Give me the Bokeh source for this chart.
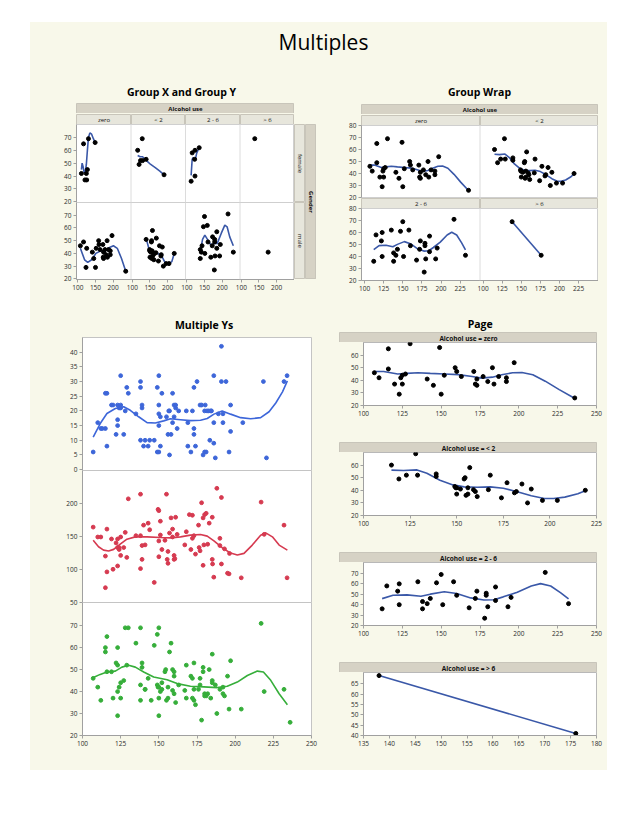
import numpy as np
from bokeh.plotting import figure
from bokeh.layouts import column, row, Spacer
from bokeh.models import FixedTicker, Span, Range1d
from bokeh.core.properties import value
from bokeh.embed import file_html
from bokeh.resources import INLINE

# ---------------- data ----------------
groups = ["zero", "< 2", "2 - 6", "> 6"]

zero_x = [107, 110, 116, 116, 120, 123, 124, 125, 125, 127,
          130, 141, 145, 149, 150, 152, 159, 160, 163, 171,
          172, 173, 173, 177, 180, 183, 184, 187, 192, 192,
          197, 236]
zero_y = [46, 42, 65, 49, 37, 29, 42, 44, 37, 45,
          69, 41, 36, 66, 29, 44, 50, 47, 43, 47,
          37, 41, 36, 43, 39, 50, 37, 43, 42, 39,
          54, 26]
zero_sex = ["M", "F", "F", "M", "F", "M", "F", "M", "F", "F",
            "F", "M", "M", "F", "M", "M", "M", "M", "M", "M",
            "M", "M", "M", "M", "M", "M", "M", "M", "M", "M",
            "M", "M"]

lt2_x = [115, 119, 123, 128, 129, 139, 139, 149, 149.5, 150,
         150, 152, 154, 154.5, 155, 156, 156, 157, 159, 160,
         161, 167, 168, 174, 177, 181, 182, 185, 188, 190,
         196, 204, 219]
lt2_y = [60, 49, 52, 69, 52, 53, 51, 43, 42, 37,
         42, 41, 49, 50, 36, 42, 37, 58, 40.5, 39,
         35, 40.5, 52, 34, 46, 38, 39, 45, 30, 41,
         32, 32, 40]
lt2_sex = ["F", "F", "F", "F", "F", "F", "M", "M", "M", "M",
           "M", "M", "M", "M", "M", "M", "M", "M", "M", "M",
           "M", "M", "M", "M", "M", "M", "M", "M", "M", "F",
           "M", "M", "M"]

mid_x = [112, 115, 122, 123, 123, 135, 138, 138, 141, 143,
         147, 150, 151, 158, 160, 168, 172, 173, 178, 179,
         179, 180, 185, 185, 193, 195, 217, 232]
mid_y = [36, 58, 53, 60, 40, 62, 43, 36, 41, 46,
         61, 69, 40, 62, 49, 37, 46, 53, 27, 51,
         49, 38, 57, 44, 38, 47, 71, 41]
mid_sex = ["F", "F", "F", "F", "F", "F", "M", "M", "M", "M",
           "M", "M", "M", "M", "M", "M", "M", "M", "M", "M",
           "M", "M", "M", "M", "M", "M", "M", "M"]

gt6_x = [138, 176]
gt6_y = [69, 41]
gt6_sex = ["F", "M"]

# smoother curves, all genders
zero_fit_x = [107, 113, 122, 128, 135, 143, 152, 161, 170, 176, 183, 189, 196, 202, 209, 217, 226, 235]
zero_fit_y = [47, 47, 45, 45.5, 46, 45.5, 45, 44.5, 43, 41.7, 42.5, 44.4, 46, 46.2, 44.4, 39.3, 32.6, 26.4]
lt2_fit_x = [115, 121.5, 128.7, 134, 141, 148, 154, 161, 168, 175, 182.5, 190, 197, 202, 208, 215, 219]
lt2_fit_y = [56, 55.7, 56.2, 53.5, 48, 44.3, 42.7, 42.4, 42.7, 41.6, 38.9, 35.7, 33.5, 33.5, 34.6, 37.3, 39.7]
mid_fit_x = [112, 119, 128, 137, 143, 152, 160, 169, 177.5, 184, 190, 199, 208, 214, 220.5, 227, 232]
mid_fit_y = [45.8, 49.1, 49.4, 48.1, 50.1, 52.4, 50.7, 46.5, 44.5, 44.8, 47.5, 52, 57.9, 60.2, 57.9, 51.4, 45.5]
gt6_fit_x = [138, 176]
gt6_fit_y = [69, 41]

# smoother curves by gender
zero_f_fit_x = [110, 112, 115, 118, 121, 124, 127, 130, 134, 139, 144, 149]
zero_f_fit_y = [45, 50, 47, 42.5, 43, 49, 60, 70, 73.5, 72.5, 69, 66]
zero_m_fit_x = [107, 119, 128, 139, 151, 165, 178, 190, 201, 212, 224, 236]
zero_m_fit_y = [44, 35, 33, 35, 40, 42, 42, 44.7, 46, 44, 36, 26]
lt2_f_fit_x = [115, 122, 129, 140, 152, 165, 178, 190]
lt2_f_fit_y = [56, 55, 55, 52, 49, 46.5, 43.8, 41]
lt2_m_fit_x = [139, 148, 159, 172, 183, 194, 203, 212, 219]
lt2_m_fit_y = [51.8, 42.7, 41.4, 40, 38, 32.2, 31.7, 33.5, 40]
mid_f_fit_x = [112, 115, 118, 121, 124, 128, 135]
mid_f_fit_y = [40.5, 53, 54.5, 52, 53, 58, 62]
mid_m_fit_x = [138, 144.5, 151, 158.5, 168, 177, 186.4, 197.6, 207.8, 214.3, 221.8, 232]
mid_m_fit_y = [41.4, 51, 54.4, 51, 46.6, 47.9, 47.9, 55.7, 62.2, 60.9, 53, 46]

# Multiple Ys: blue series
blue_x = [107, 110, 112, 113, 115, 116, 115, 116, 119, 120,
          122, 123, 123, 123, 124, 125, 125, 125, 127, 128,
          129, 130, 135, 138, 138, 138, 139, 139, 140, 141,
          143, 144, 147, 149, 149, 150, 150, 150, 150, 150,
          151, 151, 152, 155, 156, 156.5, 157, 157, 158, 159,
          159, 160, 160, 161, 161, 162, 163, 168, 169, 169,
          171, 172, 173, 173, 173, 174, 175, 177, 178, 179,
          180, 180, 180.4, 181, 181.6, 182.7, 183.4, 184, 184.5, 186,
          186, 186, 187, 189, 191, 191, 192, 192, 194, 196,
          197, 197, 205, 218.5, 220.5, 232, 234]
blue_v = [6, 16, 14, 14, 26, 26, 14, 8, 22, 22,
          12, 17, 15, 22, 21, 22, 32, 21, 12, 20,
          28, 26, 19, 30, 28, 10, 22, 21, 8, 10,
          8, 10, 10, 28, 6, 32, 6, 15, 19, 22,
          18, 8, 26, 18, 12, 20, 20, 5, 12, 26,
          16, 18, 22, 22, 21, 14, 20, 20, 16, 8,
          6, 20, 28, 14, 12, 8, 30, 22, 22, 5,
          20, 6, 22, 6, 20, 20, 10, 20, 20, 32,
          16, 9, 4, 19, 42, 30, 19, 16, 30, 6,
          13, 22, 16, 30, 4, 30, 32]
blue_fit_x = [107, 111.6, 116, 121.5, 127, 131.3, 136.8, 142.3, 147.7, 153.2, 157.6, 164.2, 170.7,
              177.3, 181.7, 186.1, 191.5, 197, 203.6, 210.1, 216.7, 222.2, 226.6, 231, 234.2]
blue_fit_v = [11.1, 15.7, 19.1, 20.8, 21.4, 20.2, 18, 16, 15.9, 16.6, 17.3, 17, 16.7,
              16.8, 17.4, 18.9, 20, 18.9, 17.7, 17.3, 17.7, 19.7, 22.7, 26.5, 30.2]

# Multiple Ys: red series
red_x = [107, 110, 112, 115, 115, 116, 116, 119, 120, 122,
         123, 123, 123, 124, 124, 125, 125, 127, 128, 129,
         130, 135, 138, 138, 138, 139, 139, 140, 141, 143,
         144, 147, 149.5, 150, 150, 150, 151, 151, 152, 154,
         155, 155.5, 156, 156, 157, 158, 159, 159, 160, 160,
         160.5, 161, 162, 167, 168, 170, 171, 172, 172, 173,
         174, 176, 176.4, 177, 178, 179, 179, 179.5, 180, 181,
         182, 183, 185, 185, 185.2, 186, 188, 190, 190, 191,
         191, 193, 195, 196, 196.3, 204, 217, 219, 232, 234]
red_v = [164, 149, 149, 120, 72, 161, 96, 146, 100, 140,
         133, 146, 105, 133, 130, 149, 121, 133, 156, 118,
         207, 151, 214, 151, 101, 136, 115, 167, 137, 170,
         160, 80, 191, 189, 143, 119, 173, 152, 130, 144,
         214, 115, 127, 109, 155, 178, 149, 161, 115, 121,
         116, 179, 153, 137, 157, 183, 130, 182, 147, 151,
         123, 167, 133, 128, 201, 178, 106, 137, 183, 185,
         138, 170, 179, 115, 108, 88, 223, 147, 136, 209,
         108, 131, 94, 93, 124, 87, 202, 153, 167, 87]
red_fit_x = [107, 110.5, 113.8, 117.1, 120.4, 124.7, 129.1, 134.6, 142.3, 151, 157.6, 164.2, 170.7,
             177.3, 181.7, 186.1, 191.5, 197, 201.4, 205.8, 211.2, 216.7, 220, 224.4, 228.8, 234.2]
red_fit_v = [144.2, 134.2, 129.1, 127.6, 130.2, 138.2, 145.7, 149.2, 149.2, 148.2, 147.7, 149.2, 151.8,
             152.8, 150.3, 143.2, 132.7, 124.6, 121.6, 124.1, 136.7, 151.8, 155.3, 149.2, 136.7, 129.1]

# Multiple Ys: green series = Y of all groups
green_fit_x = [106, 111.6, 116, 121.5, 125.8, 130.2, 134.6, 140.1, 146.6, 155.4, 162, 170.7, 179.5,
               188.2, 194.8, 201.4, 208, 214.5, 218.5, 223.3, 228.8, 234.2]
green_fit_v = [46, 47.8, 48.9, 49.3, 51.1, 52, 51.1, 48.9, 46.6, 45.4, 43.6, 42.4, 42.1,
               41.8, 42.4, 44.3, 47.3, 49.3, 48.9, 45.1, 39, 34]

# ---------------- style ----------------
CREAM = "#F8F8EA"
STRIP_DARK = "#D6D2C5"
STRIP_LIGHT = "#E7E6DC"
FONT = "Open Sans"
TICK_COL = "#2b2b2b"
AXIS_COL = "#A0A0A0"
FIT_COL = "#3A58A8"
DOT = 4.0
S = 155      # facet span in x units
X0 = 96
P = 6        # transparent padding so edge labels are not clipped

grp_x = [zero_x, lt2_x, mid_x, gt6_x]
grp_y = [zero_y, lt2_y, mid_y, gt6_y]
grp_sex = [zero_sex, lt2_sex, mid_sex, gt6_sex]
grp_fit = [(zero_fit_x, zero_fit_y), (lt2_fit_x, lt2_fit_y), (mid_fit_x, mid_fit_y), (gt6_fit_x, gt6_fit_y)]
grp_fit_f = [(zero_f_fit_x, zero_f_fit_y), (lt2_f_fit_x, lt2_f_fit_y), (mid_f_fit_x, mid_f_fit_y), None]
grp_fit_m = [(zero_m_fit_x, zero_m_fit_y), (lt2_m_fit_x, lt2_m_fit_y), (mid_m_fit_x, mid_m_fit_y), None]


def mkfig(w, h, xr, yr, left=0, right=0, top=0, bottom=0, xaxis=False, yaxis=False,
          bg="white", outline="#CFCFCF", mtop=0):
    p = figure(width=w, height=h, x_range=xr, y_range=yr,
               x_axis_location="below" if xaxis else None,
               y_axis_location="left" if yaxis else None,
               output_backend="svg", toolbar_location=None,
               min_border_left=left, min_border_right=right,
               min_border_top=top, min_border_bottom=bottom,
               background_fill_color=bg, border_fill_alpha=0)
    p.grid.visible = False
    p.outline_line_color = outline
    if mtop:
        p.styles = {"margin-top": f"-{mtop}px"}
    return p


def style_axis(ax, ticks, size="6.5px"):
    ax.ticker = FixedTicker(ticks=ticks)
    ax.major_label_text_font = FONT
    ax.major_label_text_font_size = size
    ax.major_label_text_color = TICK_COL
    ax.axis_line_color = AXIS_COL
    ax.major_tick_line_color = AXIS_COL
    ax.major_tick_out = 3
    ax.major_tick_in = 0
    ax.minor_tick_line_color = None
    ax.major_label_standoff = 2


def strip(text, w, h, color, bold=False, angle=0.0, size="6px"):
    p = figure(width=w, height=h, x_range=(0, 1), y_range=(0, 1),
               x_axis_location=None, y_axis_location=None,
               output_backend="svg", toolbar_location=None, min_border=0,
               background_fill_color=color, border_fill_color=color)
    p.outline_line_color = "#C8C5BA"
    p.grid.visible = False
    p.text(x=[0.5], y=[0.5], text=[text], text_align="center", text_baseline="middle",
           angle=angle, text_font=value(FONT), text_font_size=size,
           text_font_style="bold" if bold else "normal", text_color="#111111")
    return p


def label_fig(text, w, h, tx, ty, size, bold=True):
    p = figure(width=w, height=h, x_range=(0, w), y_range=(0, h),
               x_axis_location=None, y_axis_location=None,
               output_backend="svg", toolbar_location=None, min_border=0,
               background_fill_color=CREAM, border_fill_alpha=0, background_fill_alpha=0)
    p.outline_line_color = None
    p.grid.visible = False
    p.text(x=[tx], y=[ty], text=[text], text_align="center", text_baseline="middle",
           text_font=value(FONT), text_font_size=size,
           text_font_style="bold" if bold else "normal", text_color="#000000")
    return p


def facet_ticks(p, base, ncol):
    ticks = [t + c * S for c in range(ncol) for t in base]
    style_axis(p.xaxis[0], ticks)
    p.xaxis[0].major_label_overrides = {t + c * S: str(t) for c in range(ncol) for t in base}


def separators(p, ncol):
    for c in range(1, ncol):
        p.add_layout(Span(location=X0 + c * S, dimension="height", line_color="#DCDCDC", line_width=1))


# ---------------- title ----------------
title_fig = label_fig("Multiples", 577, 44, 293, 25, "21px", bold=False)

# ---------------- Group X and Group Y ----------------
gx_sub = label_fig("Group X and Group Y", 290, 36, 151, 11, "10.5px")
gx_head = row(Spacer(width=46, height=11), strip("Alcohol use", 218, 11, STRIP_DARK, bold=True),
              Spacer(width=26, height=11))
gx_sub2 = row(Spacer(width=46, height=11),
              strip(groups[0], 55, 11, STRIP_LIGHT), strip(groups[1], 54, 11, STRIP_LIGHT),
              strip(groups[2], 55, 11, STRIP_LIGHT), strip(groups[3], 54, 11, STRIP_LIGHT),
              Spacer(width=26, height=11))

gx_figs = []
for sex in ["F", "M"]:
    if sex == "F":
        p = mkfig(264, 78 + P, (X0, X0 + 4 * S), (19.5, 80), left=46, bottom=P, yaxis=True)
    else:
        p = mkfig(264, 98 + P, (X0, X0 + 4 * S), (19.5, 80), left=46, top=P, bottom=21,
                  xaxis=True, yaxis=True, mtop=2 * P)
    style_axis(p.yaxis[0], [20, 30, 40, 50, 60, 70])
    separators(p, 4)
    fits = grp_fit_f if sex == "F" else grp_fit_m
    for c in range(4):
        if fits[c] is not None:
            p.line([x + c * S for x in fits[c][0]], fits[c][1], line_color=FIT_COL, line_width=1.6)
        xs = [x + c * S for x, g in zip(grp_x[c], grp_sex[c]) if g == sex]
        ys = [y for y, g in zip(grp_y[c], grp_sex[c]) if g == sex]
        p.scatter(xs, ys, size=DOT, color="black")
    if sex == "M":
        facet_ticks(p, [100, 150, 200], 4)
    gx_figs.append(p)

gender_col = column(strip("female", 11, 78, STRIP_LIGHT, angle=-np.pi / 2),
                    strip("male", 11, 77, STRIP_LIGHT, angle=-np.pi / 2),
                    Spacer(width=11, height=21))
gender_outer = column(strip("Gender", 11, 155, STRIP_DARK, bold=True, angle=-np.pi / 2),
                      Spacer(width=11, height=21))
gx_body = row(column(gx_figs[0], gx_figs[1]), gender_col, gender_outer, Spacer(width=4, height=176))
left_top = column(gx_sub, gx_head, gx_sub2, gx_body)

# ---------------- Group Wrap ----------------
gw_sub = label_fig("Group Wrap", 287, 37, 159, 12, "10.5px")
gw_head = row(Spacer(width=41, height=11), strip("Alcohol use", 237, 11, STRIP_DARK, bold=True),
              Spacer(width=9, height=11))
gw_rows = []
for r in range(2):
    if r == 0:
        p = mkfig(278, 72 + 2 * P, (X0, X0 + 2 * S), (20, 80), left=41, top=P, bottom=P, yaxis=True)
    else:
        p = mkfig(278, 92 + P, (X0, X0 + 2 * S), (20, 80), left=41, top=P, bottom=20,
                  xaxis=True, yaxis=True)
    style_axis(p.yaxis[0], [20, 30, 40, 50, 60, 70, 80])
    separators(p, 2)
    for c in range(2):
        gi = r * 2 + c
        fx, fy = grp_fit[gi]
        p.line([x + c * S for x in fx], fy, line_color=FIT_COL, line_width=1.6)
        p.scatter([x + c * S for x in grp_x[gi]], grp_y[gi], size=DOT, color="black")
    if r == 1:
        facet_ticks(p, [100, 125, 150, 175, 200, 225], 2)
    gw_rows.append(p)

gw_s1 = row(Spacer(width=41, height=11), strip(groups[0], 119, 11, STRIP_LIGHT),
            strip(groups[1], 118, 11, STRIP_LIGHT), Spacer(width=9, height=11))
gw_s2 = row(Spacer(width=41, height=11), strip(groups[2], 119, 11, STRIP_LIGHT),
            strip(groups[3], 118, 11, STRIP_LIGHT), Spacer(width=9, height=11),
            styles={"margin-top": f"-{P}px"})
gw_r1 = row(gw_rows[0], Spacer(width=9, height=72), styles={"margin-top": f"-{P}px"})
gw_r2 = row(gw_rows[1], Spacer(width=9, height=92), styles={"margin-top": f"-{P}px"})
right_top = column(gw_sub, gw_head, gw_s1, gw_r1, gw_s2, gw_r2)

# ---------------- Multiple Ys ----------------
my_sub = label_fig("Multiple Ys", 300, 37, 152, 13, "10.5px")
shared_x = Range1d(100, 250)
all_x = zero_x + lt2_x + mid_x + gt6_x
all_y = zero_y + lt2_y + mid_y + gt6_y

series = [
    (blue_x, blue_v, blue_fit_x, blue_fit_v, "#3D66D9", (-0.3, 45), [0, 5, 10, 15, 20, 25, 30, 35, 40]),
    (red_x, red_v, red_fit_x, red_fit_v, "#D63A50", (49.5, 250), [50, 100, 150, 200]),
    (all_x, all_y, green_fit_x, green_fit_v, "#36AE3A", (20, 80.5), [20, 30, 40, 50, 60, 70]),
]
my_figs = []
for i, (sx, sv, fx, fv, col, yr, yt) in enumerate(series):
    if i == 0:
        p = mkfig(289, 133 + P, shared_x, yr, left=52, right=8, bottom=P, yaxis=True, outline="#C4C4C4")
    elif i == 1:
        p = mkfig(289, 132 + 2 * P, shared_x, yr, left=52, right=8, top=P, bottom=P, yaxis=True,
                  outline="#C4C4C4", mtop=2 * P)
    else:
        p = mkfig(289, 153 + P, shared_x, yr, left=52, right=8, top=P, bottom=20, xaxis=True,
                  yaxis=True, outline="#C4C4C4", mtop=2 * P)
    style_axis(p.yaxis[0], yt)
    p.line(fx, fv, line_color=col, line_width=1.6)
    p.scatter(sx, sv, size=3.8, color=col)
    if i == 2:
        style_axis(p.xaxis[0], [100, 125, 150, 175, 200, 225, 250])
    my_figs.append(p)
left_bottom = column(my_sub, my_figs[0], my_figs[1], my_figs[2], Spacer(width=300, height=15))

# ---------------- Page ----------------
pg_sub = label_fig("Page", 277, 31, 137, 8, "10.5px")
page_specs = [
    ((100, 250), (20, 70), [100, 125, 150, 175, 200, 225, 250], [20, 30, 40, 50, 60]),
    ((100, 225), (20, 70), [100, 125, 150, 175, 200, 225], [20, 30, 40, 50, 60]),
    ((100, 250), (20, 80.5), [100, 125, 150, 175, 200, 225, 250], [20, 30, 40, 50, 60, 70]),
    ((135, 180), (40, 70.5), [135, 140, 145, 150, 155, 160, 165, 170, 175, 180], [40, 45, 50, 55, 60, 65]),
]
page_items = [pg_sub]
for gi, (xr, yr, xt, yt) in enumerate(page_specs):
    bottom = 36 if gi < 3 else 35
    page_items.append(row(Spacer(width=9, height=11),
                          strip("Alcohol use = " + groups[gi], 258, 11, STRIP_DARK, bold=True,
                                size="6.5px")))
    p = mkfig(274, 63 + bottom, xr, yr, left=33, right=8, bottom=bottom,
              xaxis=True, yaxis=True, outline="#B8B8B8")
    style_axis(p.xaxis[0], xt)
    style_axis(p.yaxis[0], yt)
    fx, fy = grp_fit[gi]
    p.line(fx, fy, line_color=FIT_COL, line_width=1.6)
    p.scatter(grp_x[gi], grp_y[gi], size=DOT, color="black")
    page_items.append(p)
right_bottom = column(*page_items)

# ---------------- assemble ----------------
main = column(title_fig, row(left_top, right_top), row(left_bottom, right_bottom),
              styles={"background-color": CREAM})
root = column(Spacer(width=10, height=22), row(Spacer(width=30, height=10), main))

open("out.html", "w").write(file_html(root, INLINE))
